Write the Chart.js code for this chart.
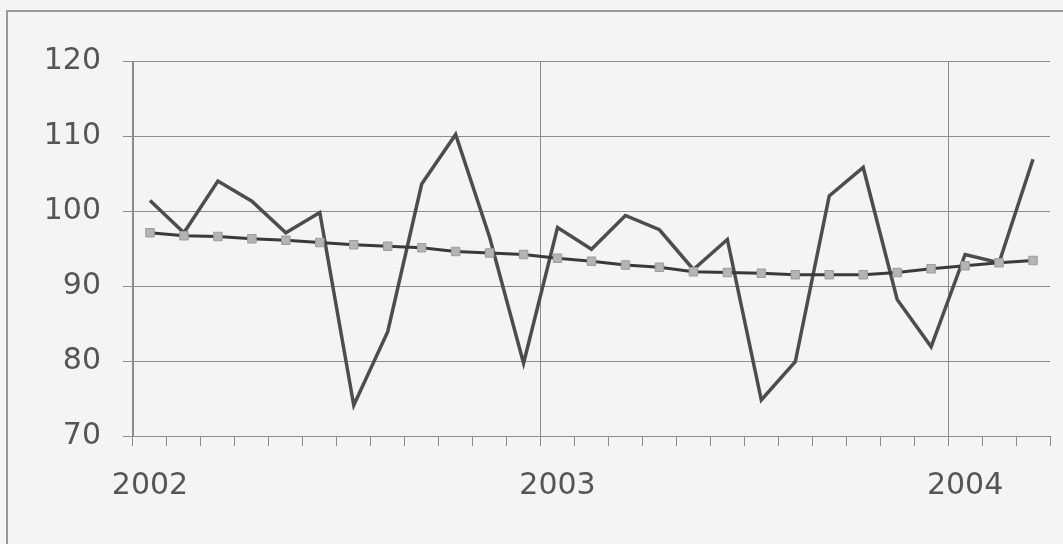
<!DOCTYPE html>
<html>
<head>
<meta charset="utf-8">
<script src="https://cdn.jsdelivr.net/npm/chart.js@4/dist/chart.umd.min.js"></script>
<style>
  html, body { margin: 0; padding: 0; background: #f4f4f4; }
  #wrap { width: 1063px; height: 544px; position: relative; }
</style>
</head>
<body>
<div id="wrap"><canvas id="chart" width="1063" height="544"></canvas></div>
<script>
// months Jan 2002 .. Mar 2004
const months = [
  "2002-01","2002-02","2002-03","2002-04","2002-05","2002-06","2002-07","2002-08","2002-09","2002-10","2002-11","2002-12",
  "2003-01","2003-02","2003-03","2003-04","2003-05","2003-06","2003-07","2003-08","2003-09","2003-10","2003-11","2003-12",
  "2004-01","2004-02","2004-03"
];
const yearLabels = { 0: "2002", 12: "2003", 24: "2004" };

// monthly index
const actual = [
  101.4, 97.1, 104.0, 101.3, 97.1, 99.8, 74.1, 83.9, 103.6, 110.2, 96.5, 79.7,
  97.8, 94.9, 99.4, 97.5, 92.2, 96.2, 74.8, 79.9, 102.0, 105.8, 88.2, 81.9,
  94.2, 93.1, 106.9
];
// smoothed trend
const trend = [
  97.1, 96.7, 96.6, 96.3, 96.1, 95.8, 95.5, 95.3, 95.1, 94.6, 94.4, 94.2,
  93.7, 93.3, 92.8, 92.5, 91.9, 91.8, 91.7, 91.5, 91.5, 91.5, 91.8, 92.3,
  92.7, 93.1, 93.4
];

const textColor = "#555";
const gridColor = "#8c8c8c";

// outer frame of the figure
const framePlugin = {
  id: "frame",
  beforeDraw(chart) {
    const c = chart.ctx;
    c.save();
    c.fillStyle = "#f4f4f4";
    c.fillRect(0, 0, chart.width, chart.height);
    c.strokeStyle = "#9a9a9a";
    c.lineWidth = 2;
    c.beginPath();
    c.moveTo(7, chart.height);
    c.lineTo(7, 11);
    c.lineTo(chart.width, 11);
    c.stroke();
    c.restore();
  }
};

new Chart(document.getElementById("chart"), {
  type: "line",
  data: {
    labels: months,
    datasets: [
      {
        label: "Trend",
        data: trend,
        order: 0,
        borderColor: "#3a3a3a",
        borderWidth: 3,
        pointStyle: "rect",
        pointRadius: 6,
        pointBackgroundColor: "#b4b4b4",
        pointBorderColor: "#9c9c9c",
        pointBorderWidth: 1,
        tension: 0
      },
      {
        label: "Index",
        data: actual,
        order: 1,
        borderColor: "#4d4d4d",
        borderWidth: 3.5,
        pointRadius: 0,
        tension: 0
      }
    ]
  },
  options: {
    responsive: false,
    animation: false,
    layout: { padding: { left: 0, right: 13, top: 61, bottom: 0 } },
    plugins: { legend: { display: false }, tooltip: { enabled: false } },
    scales: {
      x: {
        type: "category",
        offset: true,
        afterFit(scale) { scale.height = 108; },
        grid: {
          offset: true,
          color: ctx => (ctx.index % 12 === 0 || ctx.index === months.length) ? gridColor : "rgba(0,0,0,0)",
          tickColor: gridColor,
          tickLength: 10,
          lineWidth: 1
        },
        border: { display: true, color: gridColor, width: 1 },
        ticks: {
          autoSkip: false,
          maxRotation: 0,
          padding: 22,
          color: textColor,
          font: { family: "DejaVu Sans", size: 30 },
          callback: (v, i) => yearLabels[i] || ""
        }
      },
      y: {
        min: 70,
        max: 120,
        afterFit(scale) { scale.width = 133; },
        grid: { color: gridColor, tickColor: gridColor, tickLength: 10, lineWidth: 1 },
        border: { display: true, color: gridColor, width: 1 },
        ticks: {
          stepSize: 10,
          padding: 22,
          color: textColor,
          font: { family: "DejaVu Sans", size: 30 }
        }
      }
    }
  },
  plugins: [framePlugin]
});
</script>
</body>
</html>
